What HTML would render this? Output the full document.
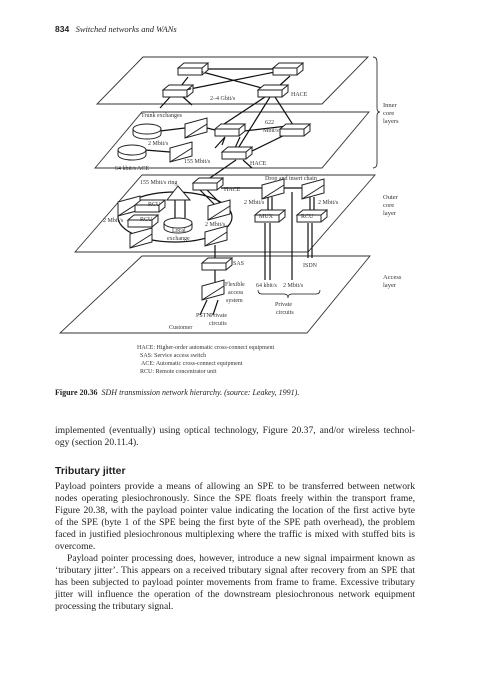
<!DOCTYPE html>
<html><head><meta charset="utf-8"><style>
body{margin:0;background:#fff;}
#p{position:relative;width:481px;height:680px;overflow:hidden;font-family:"Liberation Serif",serif;color:#222;}
.l{position:absolute;left:55px;width:360px;font-size:9.6px;line-height:12px;white-space:nowrap;}
.j{text-align:justify;text-align-last:justify;}
svg text{font-family:"Liberation Serif",serif;fill:#333;}
</style></head><body><div id="p">
<div style="position:absolute;left:55px;top:24px;font-size:8.5px;white-space:nowrap"><b style="font-family:'Liberation Sans',sans-serif">834</b>&nbsp;&nbsp;&nbsp;<i>Switched networks and WANs</i></div>

<svg width="481" height="400" style="position:absolute;left:0;top:0" font-size="6">
<defs>
<g id="bx"><path d="M0,5 L6,0 L30,0 L24,5 Z M0,5 L0,12 L24,12 L24,5 M24,12 L30,7 L30,0" fill="#fff" stroke="#222" stroke-width="1"/></g>
<g id="tr"><path d="M0,6 L22,0 L22,14 L0,20 Z M0,20 L22,6" fill="#fff" stroke="#222" stroke-width="1"/></g>
<g id="cy"><path d="M0,5 L0,10 A14,5 0 0 0 28,10 L28,5" fill="#fff" stroke="#222" stroke-width="1"/><ellipse cx="14" cy="5" rx="14" ry="5" fill="#fff" stroke="#222" stroke-width="1"/></g>
</defs>
<g fill="none" stroke="#333" stroke-width="0.9">
<path d="M143,57 L368,57 L322,104 L97,104 Z"/>
<path d="M142,112 L369,112 L322,168 L95,168 Z" fill="#fff"/>
<path d="M142,175 L375,175 L308,252 L75,252 Z" fill="#fff"/>
<path d="M142,256 L370,256 L307,333 L60,333 Z" fill="#fff"/>
<path d="M373,57 q4,0 4,5 L377,108 q0,4 3,4 q-3,0 -3,4 L377,163 q0,5 -4,5"/>
</g>
<g stroke="#111" stroke-width="1.2" fill="none">
<path d="M207,69 L273,69 M195,70 L273,91 M285,70 L180,91 M188,77 L181,86 M290,76 L279,86 M170,97 L160,108 M183,97 L192,105 M265,97 L218,128 M270,97 L237,150 M275,97 L295,128 M160,131 L185,128 M207,128 L215,130 M145,150 L170,152 M240,137 L235,148 M297,129 L250,152 M225,137 L222,145 M244,131 L296,125 M225,137 L215,148 M236,160 L207,180 M243,160 L252,168 M221,188 L262,188 M283,188 L302,188"/>
<ellipse cx="175" cy="217" rx="57" ry="25"/>
<path d="M268,197 L268,210 M272,197 L272,210 M310,197 L310,210 M314,197 L314,210 M265,223 L265,280 M270,223 L270,280 M292,192 L292,280 M308,223 L308,258 M312,223 L312,258 M215,245 L215,258 M215,270 L215,282 M207,300 L200,315 M218,300 L213,315 M175,200 L175,218 M185,200 L185,218 M200,190 L215,205 M205,188 L220,203"/>
<path d="M258,290 q0,4 4,4 L284,294 q4,0 4,4 q0,-4 4,-4 L316,294 q4,0 4,-4" stroke-width="0.7"/>
</g>
<use href="#bx" x="178" y="63"/><use href="#bx" x="273" y="63"/>
<use href="#bx" x="163" y="85"/><use href="#bx" x="258" y="85"/>
<use href="#cy" x="133" y="124"/><use href="#tr" x="185" y="118"/>
<use href="#bx" x="215" y="124"/><use href="#bx" x="280" y="124"/>
<use href="#cy" x="118" y="145"/><use href="#tr" x="170" y="142"/>
<use href="#bx" x="222" y="147"/><use href="#bx" x="193" y="178"/>
<use href="#tr" x="262" y="179"/><use href="#tr" x="302" y="179"/>
<path d="M167,200 L178,186 L190,200 Z" fill="#fff" stroke="#222" stroke-width="1"/>
<use href="#tr" x="118" y="196"/><use href="#bx" x="135" y="200"/><use href="#bx" x="128" y="215"/>
<use href="#tr" x="208" y="200"/><use href="#tr" x="130" y="228"/><use href="#tr" x="205" y="226"/>
<use href="#cy" x="164" y="218"/>
<use href="#bx" x="255" y="210"/><use href="#bx" x="297" y="210"/>
<use href="#bx" x="202" y="258"/><use href="#tr" x="202" y="280"/>
<text x="210" y="100">2–4 Gbit/s</text><text x="291" y="96">HACE</text>
<text x="141" y="117">Trunk exchanges</text><text x="265" y="124">622</text><text x="263" y="132">Mbit/s</text>
<text x="148" y="145">2 Mbit/s</text><text x="184" y="163">155 Mbit/s</text><text x="250" y="165">HACE</text>
<text x="115" y="170">64 kbit/s ACE</text>
<text x="140" y="184">155 Mbit/s ring</text><text x="224" y="191">HACE</text><text x="265" y="180">Drop and insert chain</text>
<text x="148" y="206">RCU</text><text x="140" y="221">RCU</text><text x="103" y="222">2 Mbit/s</text>
<text x="244" y="204">2 Mbit/s</text><text x="318" y="204">2 Mbit/s</text><text x="205" y="226">2 Mbit/s</text>
<text x="172" y="232">Local</text><text x="167" y="240">exchange</text>
<text x="259" y="218">MUX</text><text x="301" y="218">RCU</text>
<text x="233" y="265">SAS</text><text x="303" y="267">ISDN</text>
<text x="225" y="286">Flexible</text><text x="228" y="294">access</text><text x="226" y="302">system</text>
<text x="256" y="287">64 kbit/s</text><text x="283" y="287">2 Mbit/s</text>
<text x="275" y="306">Private</text><text x="276" y="314">circuits</text>
<text x="196" y="317">PSTN</text><text x="210" y="317">Private</text><text x="209" y="325">circuits</text><text x="169" y="329">Customer</text>
<text x="383" y="107" font-size="6.5">Inner</text><text x="383" y="115" font-size="6.5">core</text><text x="383" y="123" font-size="6.5">layers</text>
<text x="383" y="199" font-size="6.5">Outer</text><text x="383" y="207" font-size="6.5">core</text><text x="383" y="215" font-size="6.5">layer</text>
<text x="383" y="279" font-size="6.5">Access</text><text x="383" y="287" font-size="6.5">layer</text>
<text x="137" y="349">HACE:  Higher-order automatic cross-connect equipment</text>
<text x="140" y="357">SAS:  Service access switch</text>
<text x="141" y="365">ACE:  Automatic cross-connect equipment</text>
<text x="140" y="373">RCU:  Remote concentrator unit</text>
</svg>

<div class="l" style="top:387px;font-size:8px"><b>Figure 20.36</b>&nbsp;&nbsp;<i>SDH transmission network hierarchy. (source: Leakey, 1991).</i></div>
<div class="l j" style="top:425px">implemented (eventually) using optical technology, Figure 20.37, and/or wireless technol-</div>
<div class="l" style="top:437px">ogy (section 20.11.4).</div>
<div class="l" style="top:465px;font-family:'Liberation Sans',sans-serif;font-weight:bold;font-size:10.5px">Tributary jitter</div>
<div class="l j" style="top:481px">Payload pointers provide a means of allowing an SPE to be transferred between network</div>
<div class="l j" style="top:493px">nodes operating plesiochronously. Since the SPE floats freely within the transport frame,</div>
<div class="l j" style="top:505px">Figure 20.38, with the payload pointer value indicating the location of the first active byte</div>
<div class="l j" style="top:517px">of the SPE (byte 1 of the SPE being the first byte of the SPE path overhead), the problem</div>
<div class="l j" style="top:529px">faced in justified plesiochronous multiplexing where the traffic is mixed with stuffed bits is</div>
<div class="l" style="top:541px">overcome.</div>
<div class="l j" style="top:553px;left:67px;width:348px">Payload pointer processing does, however, introduce a new signal impairment known as</div>
<div class="l j" style="top:565px">‘tributary jitter’. This appears on a received tributary signal after recovery from an SPE that</div>
<div class="l j" style="top:577px">has been subjected to payload pointer movements from frame to frame. Excessive tributary</div>
<div class="l j" style="top:589px">jitter will influence the operation of the downstream plesiochronous network equipment</div>
<div class="l" style="top:601px">processing the tributary signal.</div>
</div></body></html>
